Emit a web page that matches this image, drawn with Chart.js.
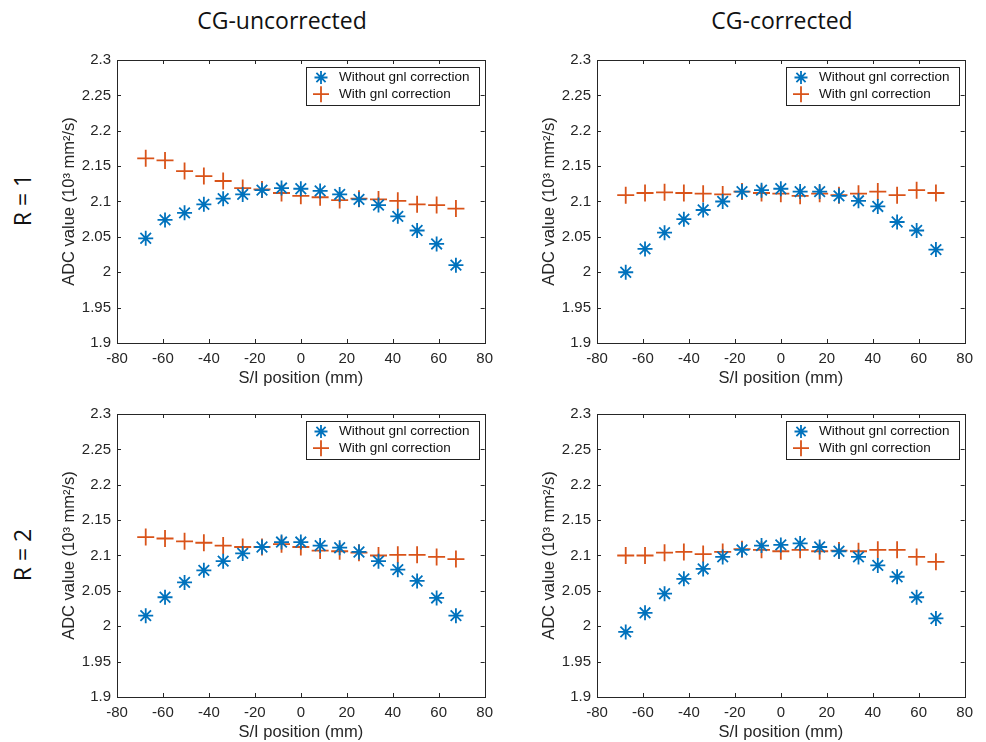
<!DOCTYPE html>
<html>
<head>
<meta charset="utf-8">
<script src="https://cdn.jsdelivr.net/npm/chart.js@4.4.0/dist/chart.umd.min.js"></script>
<style>
  body { margin: 0; background: #fff; width: 986px; height: 742px; position: relative; overflow: hidden; }
  canvas { position: absolute; }
  .head { position: absolute; font-family: "Open Sans", sans-serif; font-size: 23px; color: #111; white-space: nowrap; line-height: normal; }
  .row { transform: translate(-50%, -50%) rotate(-90deg); }
  .col { transform: translate(-50%, -50%); }
</style>
</head>
<body>
<div class="head col" style="left:282px;top:19.5px">CG-uncorrected</div>
<div class="head col" style="left:782px;top:19.5px">CG-corrected</div>
<div class="head row" style="left:22px;top:200px">R = 1</div>
<div class="head row" style="left:22px;top:555px">R = 2</div>

<canvas id="tl" width="460" height="345" style="left:40px;top:45px"></canvas>
<canvas id="tr" width="460" height="345" style="left:520px;top:45px"></canvas>
<canvas id="bl" width="460" height="345" style="left:40px;top:399px"></canvas>
<canvas id="br" width="460" height="345" style="left:520px;top:399px"></canvas>

<script>
// S/I positions (mm)
const positions = [-67.5, -59.1, -50.6, -42.2, -33.8, -25.3, -16.9, -8.4, 0, 8.4, 16.9, 25.3, 33.8, 42.2, 50.6, 59.1, 67.5];

// R = 1, CG-uncorrected
const tlWithout = [2.048, 2.074, 2.084, 2.096, 2.104, 2.110, 2.116, 2.119, 2.118, 2.115, 2.110, 2.103, 2.095, 2.079, 2.059, 2.040, 2.010];
const tlWith    = [2.161, 2.158, 2.143, 2.136, 2.129, 2.119, 2.117, 2.112, 2.108, 2.106, 2.102, 2.104, 2.103, 2.101, 2.096, 2.095, 2.090];
// R = 1, CG-corrected
const trWithout = [2.000, 2.033, 2.056, 2.075, 2.088, 2.100, 2.114, 2.116, 2.118, 2.114, 2.114, 2.108, 2.101, 2.093, 2.071, 2.059, 2.032];
const trWith    = [2.109, 2.112, 2.113, 2.112, 2.111, 2.110, 2.114, 2.112, 2.111, 2.108, 2.111, 2.109, 2.111, 2.114, 2.109, 2.116, 2.112];
// R = 2, CG-uncorrected
const blWithout = [2.015, 2.041, 2.062, 2.079, 2.092, 2.103, 2.112, 2.119, 2.119, 2.114, 2.111, 2.105, 2.092, 2.080, 2.064, 2.040, 2.015];
const blWith    = [2.126, 2.124, 2.120, 2.118, 2.114, 2.112, 2.112, 2.116, 2.112, 2.107, 2.106, 2.104, 2.100, 2.101, 2.101, 2.098, 2.095];
// R = 2, CG-corrected
const brWithout = [1.992, 2.019, 2.046, 2.067, 2.081, 2.098, 2.108, 2.114, 2.115, 2.117, 2.112, 2.106, 2.098, 2.086, 2.070, 2.041, 2.011];
const brWith    = [2.100, 2.100, 2.104, 2.105, 2.102, 2.105, 2.109, 2.108, 2.106, 2.108, 2.106, 2.107, 2.106, 2.108, 2.108, 2.098, 2.091];

const seriesNames = ['Without gnl correction', 'With gnl correction'];
const xTicks = [-80, -60, -40, -20, 0, 20, 40, 60, 80];
const yTicks = [1.9, 1.95, 2, 2.05, 2.1, 2.15, 2.2, 2.25, 2.3];

const BLUE = '#0072BD';
const ORANGE = '#D95319';
const AXIS = '#262626';
const FONT = '"Liberation Sans", Arial, sans-serif';

// matlab style box with inward ticks + boxed legend
const boxPlugin = {
  id: 'box',
  afterDraw(chart) {
    const {ctx, chartArea: a, scales} = chart;
    ctx.save();
    ctx.strokeStyle = AXIS;
    ctx.lineWidth = 1;
    ctx.beginPath();
    yTicks.forEach(v => {
      const y = Math.round(scales.y.getPixelForValue(v)) + 0.5;
      ctx.moveTo(a.left, y); ctx.lineTo(a.left + 4, y);
      ctx.moveTo(a.right, y); ctx.lineTo(a.right - 4, y);
    });
    xTicks.forEach(v => {
      const x = Math.round(scales.x.getPixelForValue(v)) + 0.5;
      ctx.moveTo(x, a.bottom); ctx.lineTo(x, a.bottom - 4);
      ctx.moveTo(x, a.top); ctx.lineTo(x, a.top + 4);
    });
    ctx.stroke();
    ctx.strokeRect(Math.round(a.left) + 0.5, Math.round(a.top) + 0.5, Math.round(a.right - a.left), Math.round(a.bottom - a.top));

    const w = 173, h = 38;
    const lx = Math.round(a.right - 6 - w), ly = Math.round(a.top + 7);
    ctx.fillStyle = '#fff';
    ctx.fillRect(lx, ly, w, h);
    ctx.strokeStyle = '#222';
    ctx.strokeRect(lx + 0.5, ly + 0.5, w, h);
    ctx.font = '13.5px ' + FONT;
    ctx.textBaseline = 'middle';
    chart.data.datasets.forEach((ds, i) => {
      const cy = ly + 10.5 + i * 16.7, cx = lx + 15;
      const r = ds.pointStyle === 'star' ? 6.5 : 8;
      ctx.strokeStyle = ds.borderColor;
      ctx.lineWidth = 1.8;
      ctx.beginPath();
      ctx.moveTo(cx - r, cy); ctx.lineTo(cx + r, cy);
      ctx.moveTo(cx, cy - r); ctx.lineTo(cx, cy + r);
      if (ds.pointStyle === 'star') {
        const d = r * Math.SQRT1_2;
        ctx.moveTo(cx - d, cy - d); ctx.lineTo(cx + d, cy + d);
        ctx.moveTo(cx - d, cy + d); ctx.lineTo(cx + d, cy - d);
      }
      ctx.stroke();
      ctx.fillStyle = '#111';
      ctx.fillText(ds.label, lx + 33, cy);
    });
    ctx.restore();
  }
};

function makeChart(id, without, withCorr) {
  const ds = (label, values, color, style, r) => ({
    label,
    data: values.map((v, i) => ({x: positions[i], y: v})),
    borderColor: color,
    backgroundColor: color,
    pointStyle: style,
    pointRadius: r,
    pointBorderWidth: 1.8,
    showLine: false
  });
  return new Chart(document.getElementById(id), {
    type: 'scatter',
    data: {
      datasets: [
        ds(seriesNames[0], without, BLUE, 'star', 7.5),
        ds(seriesNames[1], withCorr, ORANGE, 'cross', 8.5)
      ]
    },
    options: {
      responsive: false,
      animation: false,
      devicePixelRatio: 1,
      layout: { padding: { top: 10, right: 12, left: 0, bottom: 0 } },
      plugins: { legend: { display: false }, tooltip: { enabled: false } },
      scales: {
        x: {
          type: 'linear', min: -80, max: 80,
          grid: { display: false, drawTicks: false }, border: { display: false },
          afterBuildTicks: s => { s.ticks = xTicks.map(v => ({value: v})); },
          afterFit: s => { s.height = 47; },
          ticks: { color: AXIS, font: { family: FONT, size: 15 }, padding: 7, maxRotation: 0 },
          title: { display: true, text: 'S/I position (mm)', color: AXIS, font: { family: FONT, size: 16.5 }, padding: { top: 0, bottom: 2 } }
        },
        y: {
          min: 1.9, max: 2.3,
          grid: { display: false, drawTicks: false }, border: { display: false },
          afterBuildTicks: s => { s.ticks = yTicks.map(v => ({value: v})); },
          afterFit: s => { s.width = 77; },
          ticks: { color: AXIS, font: { family: FONT, size: 15 }, padding: 6, callback: v => String(+v.toFixed(2)) },
          title: { display: true, text: 'ADC value (10\u00B3 mm\u00B2/s)', color: AXIS, font: { family: FONT, size: 16.5 }, padding: { top: 20, bottom: 0 } }
        }
      }
    },
    plugins: [boxPlugin]
  });
}

makeChart('tl', tlWithout, tlWith);
makeChart('tr', trWithout, trWith);
makeChart('bl', blWithout, blWith);
makeChart('br', brWithout, brWith);
</script>
</body>
</html>
